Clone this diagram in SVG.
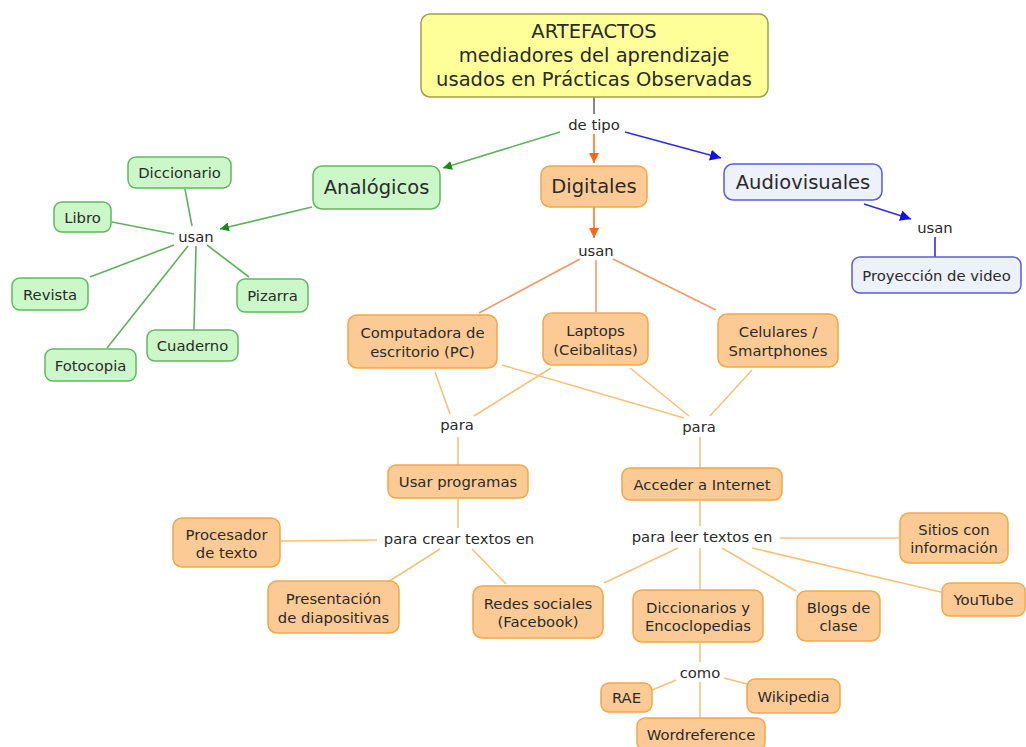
<svg xmlns="http://www.w3.org/2000/svg" width="1026" height="747" viewBox="0 0 1026 747">
<defs>
<style>
text{font-family:"DejaVu Sans",Verdana,sans-serif;fill:#2a2a2a;text-anchor:middle;dominant-baseline:central}
.t{font-size:14.8px}
.big{font-size:19.5px}
.lab{font-size:14.8px;fill:#2a2a2a}
.g rect{fill:#ccf7c8;stroke:#5fb95f;stroke-width:1.5}
.o rect{fill:#fccb95;stroke:#f0a848;stroke-width:1.5}
.b rect{fill:#edf1fa;stroke:#5a5ae8;stroke-width:1.5}
.y rect{fill:#ffff99;stroke:#a0a050;stroke-width:1.5}
.lg{stroke:#5fb060;stroke-width:1.6;fill:none}
.lo{stroke:#f5c27a;stroke-width:1.6;fill:none}
.ls{stroke:#f09a68;stroke-width:1.6;fill:none}
.ld{stroke:#f57a2a;stroke-width:1.6;fill:none}
.lb{stroke:#2c2cf0;stroke-width:1.6;fill:none}
.lgr{stroke:#888;stroke-width:2;fill:none}
</style>
<marker id="ag" viewBox="0 0 10 10" refX="10" refY="5" markerWidth="9" markerHeight="9" markerUnits="userSpaceOnUse" orient="auto"><path d="M0,0L10,5L0,10z" fill="#1a8a1a"/></marker>
<marker id="ao" viewBox="0 0 10 10" refX="10" refY="5" markerWidth="10" markerHeight="10" markerUnits="userSpaceOnUse" orient="auto"><path d="M0,0L10,5L0,10z" fill="#f56a10"/></marker>
<marker id="ab" viewBox="0 0 10 10" refX="10" refY="5" markerWidth="11" markerHeight="11" markerUnits="userSpaceOnUse" orient="auto"><path d="M0,0L10,5L0,10z" fill="#1010f0"/></marker>
</defs>
<rect width="1026" height="747" fill="#fff"/>
<g id="connectors">
<line class="lgr" x1="594" y1="97" x2="594" y2="114"/>
<line class="lg" x1="560" y1="132" x2="443" y2="168" marker-end="url(#ag)"/>
<line class="ld" x1="594" y1="134" x2="594" y2="163" marker-end="url(#ao)"/>
<line class="lb" x1="625" y1="132" x2="721" y2="158" marker-end="url(#ab)"/>
<line class="lg" x1="312" y1="207" x2="220" y2="229" marker-end="url(#ag)"/>
<line class="lg" x1="185" y1="189" x2="192" y2="226"/>
<line class="lg" x1="112" y1="222" x2="174" y2="234"/>
<line class="lg" x1="90" y1="277" x2="174" y2="245"/>
<line class="lg" x1="249" y1="277" x2="207" y2="245"/>
<line class="lg" x1="194" y1="330" x2="196" y2="246"/>
<line class="lg" x1="107" y1="348" x2="188" y2="246"/>
<line class="lb" x1="864" y1="204" x2="911" y2="219" marker-end="url(#ab)"/>
<line class="lb" x1="935" y1="237" x2="935" y2="257"/>
<line class="ld" x1="594" y1="207" x2="594" y2="238" marker-end="url(#ao)"/>
<line class="ls" x1="580" y1="259" x2="479" y2="313"/>
<line class="ls" x1="596" y1="260" x2="596" y2="312"/>
<line class="ls" x1="613" y1="259" x2="716" y2="310"/>
<line class="lo" x1="435" y1="372" x2="450" y2="414"/>
<line class="lo" x1="551" y1="368" x2="474" y2="416"/>
<line class="lo" x1="502" y1="365" x2="684" y2="418"/>
<line class="lo" x1="630" y1="368" x2="689" y2="416"/>
<line class="lo" x1="752" y1="370" x2="710" y2="416"/>
<line class="lo" x1="458" y1="437" x2="458" y2="465"/>
<line class="lo" x1="700" y1="437" x2="700" y2="468"/>
<line class="lo" x1="458" y1="499" x2="458" y2="528"/>
<line class="lo" x1="281" y1="541" x2="377" y2="540"/>
<line class="lo" x1="388" y1="582" x2="440" y2="549"/>
<line class="lo" x1="506" y1="584" x2="472" y2="549"/>
<line class="lo" x1="700" y1="501" x2="700" y2="526"/>
<line class="lo" x1="780" y1="538" x2="899" y2="538"/>
<line class="lo" x1="752" y1="548" x2="941" y2="592"/>
<line class="lo" x1="722" y1="548" x2="796" y2="591"/>
<line class="lo" x1="700" y1="548" x2="700" y2="590"/>
<line class="lo" x1="678" y1="548" x2="604" y2="583"/>
<line class="lo" x1="700" y1="643" x2="700" y2="662"/>
<line class="lo" x1="676" y1="680" x2="652" y2="690"/>
<line class="lo" x1="724" y1="678" x2="747" y2="684"/>
<line class="lo" x1="700" y1="682" x2="700" y2="718"/>
</g>
<g id="link-phrases">
<text class="lab" x="594" y="124">de tipo</text>
<text class="lab" x="196" y="236">usan</text>
<text class="lab" x="596" y="250">usan</text>
<text class="lab" x="935" y="227">usan</text>
<text class="lab" x="457" y="424">para</text>
<text class="lab" x="699" y="426">para</text>
<text class="lab" x="459" y="538">para crear textos en</text>
<text class="lab" x="702" y="536">para leer textos en</text>
<text class="lab" x="700" y="672">como</text>
</g>
<g id="n-artefactos" class="y"><rect x="421" y="14" width="347" height="83" rx="9"/>
<text class="big" x="594" y="31">ARTEFACTOS</text><text class="big" x="594" y="55">mediadores del aprendizaje</text><text class="big" x="594" y="79">usados en Prácticas Observadas</text></g>
<g id="n-analogicos" class="g"><rect x="313" y="166" width="127" height="43" rx="9"/><text class="big" x="376.5" y="187.5">Analógicos</text></g>
<g id="n-digitales" class="o"><rect x="541" y="166" width="106" height="41" rx="9"/><text class="big" x="594" y="186.5">Digitales</text></g>
<g id="n-audiovisuales" class="b"><rect x="724" y="164" width="158" height="36" rx="9"/><text class="big" x="803" y="182">Audiovisuales</text></g>
<g id="n-proyeccion" class="b"><rect x="852" y="257" width="169" height="36" rx="8"/><text class="t" x="936.5" y="275">Proyección de video</text></g>
<g id="n-diccionario" class="g"><rect x="128" y="157" width="103" height="31" rx="8"/><text class="t" x="179.5" y="172.5">Diccionario</text></g>
<g id="n-libro" class="g"><rect x="54" y="202" width="57" height="30" rx="8"/><text class="t" x="82.5" y="217">Libro</text></g>
<g id="n-revista" class="g"><rect x="12" y="278" width="76" height="32" rx="8"/><text class="t" x="50" y="294">Revista</text></g>
<g id="n-pizarra" class="g"><rect x="237" y="279" width="71" height="33" rx="8"/><text class="t" x="272.5" y="295.5">Pizarra</text></g>
<g id="n-cuaderno" class="g"><rect x="147" y="330" width="91" height="31" rx="8"/><text class="t" x="192.5" y="345.5">Cuaderno</text></g>
<g id="n-fotocopia" class="g"><rect x="45" y="349" width="91" height="32" rx="8"/><text class="t" x="90.5" y="365">Fotocopia</text></g>
<g id="n-computadora" class="o"><rect x="348" y="315" width="149" height="53" rx="9"/><text class="t" x="422.5" y="332">Computadora de</text><text class="t" x="422.5" y="351">escritorio (PC)</text></g>
<g id="n-laptops" class="o"><rect x="543" y="313" width="105" height="52" rx="9"/><text class="t" x="595.5" y="330">Laptops</text><text class="t" x="595.5" y="349">(Ceibalitas)</text></g>
<g id="n-celulares" class="o"><rect x="718" y="314" width="120" height="53" rx="9"/><text class="t" x="778" y="331">Celulares /</text><text class="t" x="778" y="350">Smartphones</text></g>
<g id="n-usar" class="o"><rect x="388" y="465" width="140" height="33" rx="8"/><text class="t" x="458" y="481">Usar programas</text></g>
<g id="n-acceder" class="o"><rect x="622" y="468" width="160" height="32" rx="8"/><text class="t" x="702" y="484">Acceder a Internet</text></g>
<g id="n-procesador" class="o"><rect x="173" y="518" width="107" height="49" rx="9"/><text class="t" x="226.5" y="534">Procesador</text><text class="t" x="226.5" y="552">de texto</text></g>
<g id="n-presentacion" class="o"><rect x="268" y="581" width="131" height="52" rx="9"/><text class="t" x="333.5" y="598">Presentación</text><text class="t" x="333.5" y="617">de diapositivas</text></g>
<g id="n-redes" class="o"><rect x="473" y="586" width="130" height="52" rx="9"/><text class="t" x="538" y="603">Redes sociales</text><text class="t" x="538" y="621">(Facebook)</text></g>
<g id="n-sitios" class="o"><rect x="900" y="513" width="108" height="50" rx="9"/><text class="t" x="954" y="529">Sitios con</text><text class="t" x="954" y="547">información</text></g>
<g id="n-youtube" class="o"><rect x="942" y="583" width="83" height="33" rx="8"/><text class="t" x="983.5" y="599.5">YouTube</text></g>
<g id="n-diccionarios" class="o"><rect x="633" y="590" width="130" height="52" rx="9"/><text class="t" x="698" y="607">Diccionarios y</text><text class="t" x="698" y="625">Encoclopedias</text></g>
<g id="n-blogs" class="o"><rect x="797" y="591" width="83" height="50" rx="9"/><text class="t" x="838.5" y="607">Blogs de</text><text class="t" x="838.5" y="625">clase</text></g>
<g id="n-rae" class="o"><rect x="601" y="683" width="51" height="29" rx="8"/><text class="t" x="626.5" y="697.5">RAE</text></g>
<g id="n-wikipedia" class="o"><rect x="747" y="679" width="93" height="34" rx="8"/><text class="t" x="793.5" y="696">Wikipedia</text></g>
<g id="n-wordreference" class="o"><rect x="637" y="718" width="128" height="32" rx="8"/><text class="t" x="701" y="734">Wordreference</text></g>
</svg>
